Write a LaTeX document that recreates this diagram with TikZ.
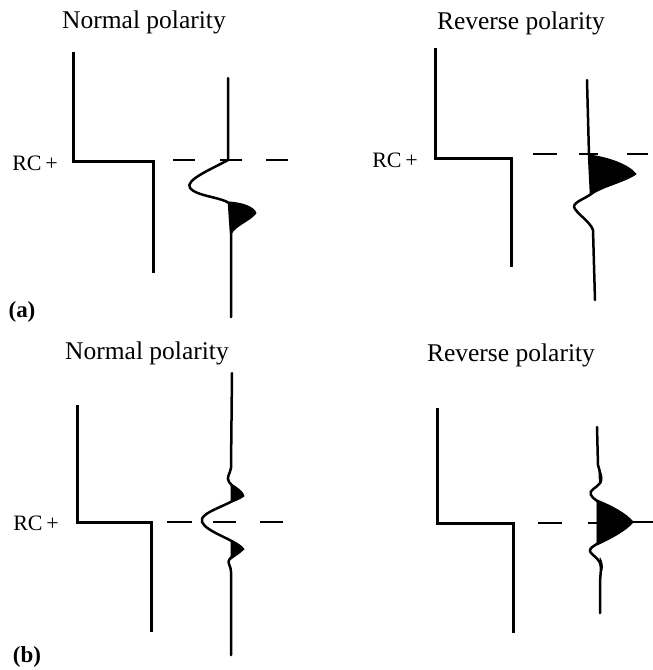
\documentclass[tikz,border=0pt]{standalone}
\usepackage{fontspec}
\setmainfont{Liberation Serif}
\begin{document}
\begin{tikzpicture}[x=1pt,y=-1pt,
  stepline/.style={line width=3pt, line join=miter},
  trace/.style={line width=2.5pt, line join=round, line cap=round},
  lobe/.style={fill=black, draw=black, line width=1pt, line join=round},
  dashseg/.style={line width=2.5pt},
  ttl/.style={font=\fontsize{25.5}{27}\selectfont, inner sep=0pt},
  rc/.style={font=\fontsize{22}{24}\selectfont, inner sep=0pt},
  lab/.style={font=\bfseries\fontsize{23}{25}\selectfont, inner sep=0pt}]
\useasboundingbox (0,0) rectangle (653,670);

% ---------------- (a) normal polarity ----------------
\node[ttl] (tan) at (144,22) {Normal polarity};
\node[rc] (rca) at (35,163) {RC\,+};
\draw[stepline] (73,52) -- (73,161) -- (153,161) -- (153,273);
\draw[dashseg] (173,160) -- (195,160) (220,160) -- (242,160) (266,160) -- (288,160);
\draw[trace] (228,78) -- (228,160)
  .. controls (214,168) and (184,180) .. (190,188)
  .. controls (196,196) and (220,197) .. (229,203)
  -- (231,233) -- (231,317);
\fill[lobe] (229,202) .. controls (245,203) and (254,208) .. (256,213)
  .. controls (250,221) and (236,225) .. (231,234) -- cycle;
\node[lab] (la) at (22,312) {(a)};

% ---------------- (a) reverse polarity ----------------
\node[ttl] (tar) at (521,23) {Reverse polarity};
\node[rc] (rcb) at (395,160) {RC\,+};
\draw[stepline] (435,48) -- (435,158) -- (511,158) -- (511,267);
\draw[dashseg] (533,154) -- (557,154) (579,154) -- (598,154) (627,154) -- (648,154);
\draw[trace] (587,80) -- (589,155) -- (591,194)
  .. controls (585,199) and (570,203) .. (575,209)
  .. controls (580,216) and (590,222) .. (593,230)
  -- (595,300);
\fill[lobe] (589,155) .. controls (606,157) and (628,164) .. (636,174)
  .. controls (625,182) and (601,187) .. (591,195) -- cycle;

% ---------------- (b) normal polarity ----------------
\node[ttl] (tbn) at (147,353) {Normal polarity};
\node[rc] (rcc) at (36,523) {RC\,+};
\draw[stepline] (77,405) -- (77,522) -- (151,522) -- (151,632);
\draw[dashseg] (167,522) -- (192,522) (213,522) -- (236,522) (260,522) -- (283,522);
\draw[trace] (232,373) -- (231,468)
  .. controls (230,474) and (226,477) .. (229,482)
  .. controls (232,487) and (240,490) .. (241,495)
  .. controls (232,505) and (198,512) .. (202,522)
  .. controls (206,532) and (236,540) .. (241,548)
  .. controls (238,554) and (226,558) .. (229,564)
  .. controls (232,570) and (231,575) .. (231,585) -- (231,655);
\fill[lobe] (231,484) .. controls (238,488) and (243,492) .. (244,496)
  .. controls (240,499) and (235,501) .. (231,502) -- cycle;
\fill[lobe] (231,541) .. controls (236,543) and (241,545) .. (244,549)
  .. controls (240,553) and (235,556) .. (231,559) -- cycle;
\node[lab] (lb) at (27,657) {(b)};

% ---------------- (b) reverse polarity ----------------
\node[ttl] (tbr) at (511,355) {Reverse polarity};
\draw[stepline] (437,408) -- (437,523) -- (513,523) -- (513,633);
\draw[dashseg] (538,523) -- (562,523) (588,523) -- (598,523);
\draw[dashseg] (630,522) -- (653,522);
\draw[trace] (597,427) -- (598,465)
  .. controls (600,472) and (602,478) .. (600,483)
  .. controls (597,488) and (588,490) .. (591,495)
  .. controls (593,499) and (597,500) .. (598,502)
  -- (598,543)
  .. controls (595,546) and (587,548) .. (591,553)
  .. controls (595,557) and (600,560) .. (601,566)
  .. controls (601,572) and (600,578) .. (600,585) -- (600,613);
\fill[lobe] (597,500) .. controls (610,505) and (627,514) .. (633,522)
  .. controls (627,530) and (610,539) .. (597,545) -- cycle;
\fill[lobe] (599,470) .. controls (602,474) and (603,479) .. (601,483) -- (599,478) -- cycle;
\fill[lobe] (600,558) .. controls (602,562) and (603,566) .. (602,570) -- (600,566) -- cycle;
\end{tikzpicture}
\end{document}
